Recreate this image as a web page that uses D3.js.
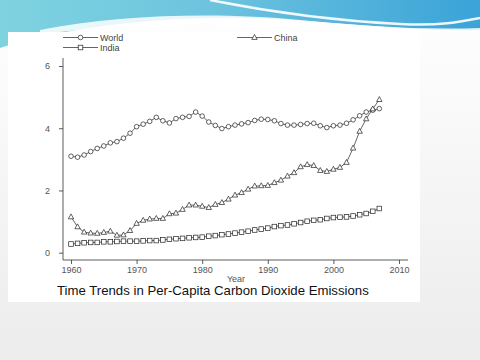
<!DOCTYPE html>
<html><head><meta charset="utf-8">
<script src="https://cdn.jsdelivr.net/npm/d3@7"></script>
<style>html,body{margin:0;padding:0;background:#fff;}svg{display:block;}</style>
</head><body><svg id="c" width="480" height="360"></svg>
<script>
const years = d3.range(1960, 2008);
const world = [3.10,3.07,3.14,3.25,3.35,3.43,3.53,3.57,3.68,3.84,
  4.05,4.13,4.22,4.35,4.24,4.17,4.31,4.35,4.38,4.52,
  4.39,4.20,4.09,3.99,4.05,4.10,4.14,4.18,4.25,4.29,
  4.28,4.24,4.15,4.10,4.10,4.12,4.15,4.16,4.08,4.02,
  4.08,4.10,4.16,4.27,4.40,4.52,4.58,4.63];
const china = [1.15,0.83,0.66,0.63,0.62,0.65,0.69,0.56,0.57,0.71,
  0.94,1.04,1.08,1.10,1.10,1.25,1.27,1.39,1.53,1.53,
  1.49,1.45,1.55,1.61,1.72,1.85,1.93,2.04,2.14,2.15,
  2.16,2.25,2.33,2.46,2.57,2.76,2.83,2.80,2.64,2.61,
  2.68,2.74,2.90,3.36,3.90,4.30,4.62,4.92];
const india = [0.28,0.30,0.32,0.33,0.33,0.35,0.35,0.36,0.37,0.37,
  0.37,0.38,0.39,0.39,0.41,0.43,0.45,0.46,0.48,0.49,
  0.50,0.53,0.55,0.58,0.60,0.63,0.66,0.69,0.73,0.76,
  0.79,0.84,0.87,0.89,0.93,0.97,1.01,1.04,1.06,1.10,
  1.13,1.14,1.15,1.18,1.22,1.26,1.33,1.42];
const xTicks = [1960,1970,1980,1990,2000,2010];
const yTicks = [0,2,4,6];
const seriesNames = ["World","India","China"];
const titleText = "Time Trends in Per-Capita Carbon Dioxide Emissions";

const svg = d3.select("#c");
const defs = svg.append("defs");
const bg = defs.append("linearGradient").attr("id","bgg").attr("x1",0).attr("y1",0).attr("x2",0).attr("y2",1);
bg.append("stop").attr("offset","0%").attr("stop-color","#ffffff");
bg.append("stop").attr("offset","100%").attr("stop-color","#ececec");
const bl = defs.append("linearGradient").attr("id","blue").attr("x1",0).attr("y1",0).attr("x2",1).attr("y2",0);
bl.append("stop").attr("offset","0%").attr("stop-color","#7fd3e0");
bl.append("stop").attr("offset","45%").attr("stop-color","#6cc3de");
bl.append("stop").attr("offset","100%").attr("stop-color","#3aa3d8");

svg.append("rect").attr("width",480).attr("height",360).attr("fill","url(#bgg)");
svg.append("path").attr("fill","url(#blue)")
  .attr("d","M0,0 L480,0 L480,30 C400,32 330,20 250,18 C160,16 60,28 0,48 Z");
svg.append("path").attr("fill","#ffffff").attr("opacity",0.85)
  .attr("d","M40,30 C120,14 220,12 300,20 C360,26 420,30 480,28 L480,32 C400,34 330,28 260,26 C180,22 110,26 40,34 Z");
svg.append("path").attr("fill","none").attr("stroke","#ffffff").attr("stroke-width",2.5).attr("opacity",0.9)
  .attr("d","M210,0 C260,10 320,20 400,24 C440,26 460,22 480,18");
svg.append("rect").attr("x",8).attr("y",32).attr("width",412).attr("height",270).attr("fill","#ffffff");

const x = d3.scaleLinear().domain([1960,2010]).range([71,399]);
const y = d3.scaleLinear().domain([0,6]).range([252.7,66]);
const axisY = 260, axisX = 63;

const g = svg.append("g").attr("font-family","Liberation Sans, Arial, sans-serif");
g.append("line").attr("x1",axisX).attr("x2",axisX).attr("y1",58).attr("y2",axisY).attr("stroke","#333").attr("stroke-width",0.8);
g.append("line").attr("x1",axisX).attr("x2",408).attr("y1",axisY).attr("y2",axisY).attr("stroke","#333").attr("stroke-width",0.8);
const yAx = g.append("g").attr("transform",`translate(${axisX},0)`)
  .call(d3.axisLeft(y).tickValues(yTicks).tickSize(4).tickPadding(9).tickFormat(d3.format("d")));
yAx.select(".domain").remove();
const xAx = g.append("g").attr("transform",`translate(0,${axisY})`)
  .call(d3.axisBottom(x).tickValues(xTicks).tickSize(4).tickPadding(3).tickFormat(d3.format("d")));
xAx.select(".domain").remove();
[yAx,xAx].forEach(a=>{
  a.selectAll("line").attr("stroke","#333").attr("stroke-width",0.8);
  a.selectAll("text").attr("fill","#555").attr("font-size",9).attr("font-family","Liberation Sans, Arial, sans-serif");
});

const line = d3.line().x((d,i)=>x(years[i])).y(d=>y(d));
const data = [world, india, china];
const shapes = ["circle","square","triangle"];
function marker(sel, shape, cx, cy){
  if(shape==="circle") sel.append("circle").attr("cx",cx).attr("cy",cy).attr("r",2.3);
  else if(shape==="square") sel.append("rect").attr("x",cx-2.3).attr("y",cy-2.3).attr("width",4.6).attr("height",4.6);
  else sel.append("path").attr("d",`M${cx},${cy-3} L${cx+2.7},${cy+1.9} L${cx-2.7},${cy+1.9} Z`);
}
data.forEach((vals,k)=>{
  g.append("path").datum(vals).attr("d",line).attr("fill","none").attr("stroke","#222").attr("stroke-width",0.7);
  const mg = g.append("g").attr("fill","#fff").attr("stroke","#222").attr("stroke-width",0.7);
  vals.forEach((v,i)=>marker(mg, shapes[k], x(years[i]), y(v)));
});

const leg = [{n:seriesNames[0],s:"circle",x:63,y:37.5},{n:seriesNames[1],s:"square",x:63,y:47.5},{n:seriesNames[2],s:"triangle",x:237,y:37.5}];
leg.forEach(l=>{
  g.append("line").attr("x1",l.x).attr("x2",l.x+35).attr("y1",l.y).attr("y2",l.y).attr("stroke","#222").attr("stroke-width",0.7);
  const mg = g.append("g").attr("fill","#fff").attr("stroke","#222").attr("stroke-width",0.7);
  marker(mg, l.s, l.x+17.5, l.y);
  g.append("text").attr("x",l.x+37).attr("y",l.y+3.2).attr("font-size",9).attr("fill","#444").text(l.n);
});

g.append("text").attr("x",236).attr("y",282).attr("text-anchor","middle").attr("font-size",9).attr("fill","#555").text("Year");
g.append("text").attr("x",57).attr("y",295).attr("font-size",13.2).attr("fill","#111").text(titleText);
</script></body></html>
